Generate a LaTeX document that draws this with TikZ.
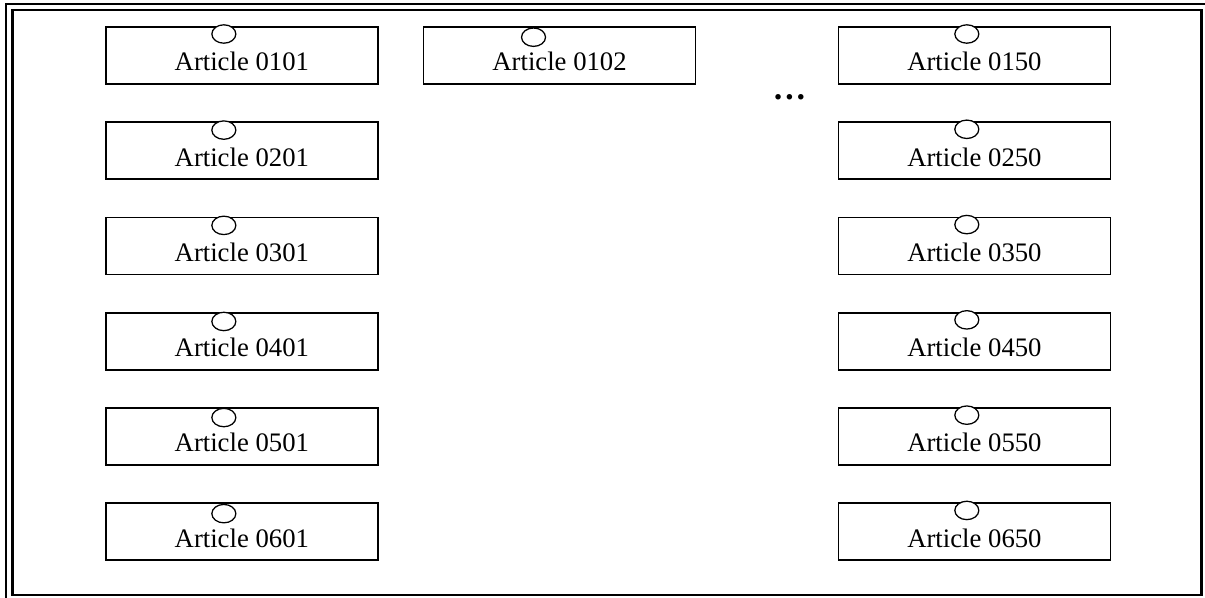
\documentclass[tikz,border=0pt]{standalone}
\usepackage{fontspec}
\setmainfont{Liberation Serif}
\usepackage{tikz}
\usetikzlibrary{positioning,shapes.geometric}

\begin{document}
\begin{tikzpicture}[
  node distance=0.915cm and 1.1cm,
  box/.style={draw,line width=1.2pt,minimum width=6.8cm,minimum height=1.425cm,inner xsep=0pt,inner ysep=0.05cm,text height=1.05cm,text depth=0.275cm,font=\fontsize{19}{21}\selectfont},
  hole/.style={draw,ellipse,fill=white,line width=0.9pt,minimum width=0.6cm,minimum height=0.46cm,inner sep=0pt}
]
\useasboundingbox (0,0) rectangle (30.125,-14.95);
% frame
\draw[line width=1.3pt] (0.145,-14.95) |- (30.125,-0.105);
\draw[line width=1.8pt] (0.31,-0.25) rectangle (30.04,-14.87);
% first column
\node[box,anchor=north west] (a0101) at (2.625,-0.65) {Article 0101};
\node[box,below=of a0101] (a0201) {Article 0201};
\node[box,below=of a0201] (a0301) {Article 0301};
\node[box,below=of a0301] (a0401) {Article 0401};
\node[box,below=of a0401] (a0501) {Article 0501};
\node[box,below=of a0501] (a0601) {Article 0601};
% second column
\node[box,right=of a0101] (a0102) {Article 0102};
% last column
\node[box,right=3.53cm of a0102] (a0150) {Article 0150};
\node[box,below=of a0150] (a0250) {Article 0250};
\node[box,below=of a0250] (a0350) {Article 0350};
\node[box,below=of a0350] (a0450) {Article 0450};
\node[box,below=of a0450] (a0550) {Article 0550};
\node[box,below=of a0550] (a0650) {Article 0650};
\node (more) at (19.74,-2.43) {\fontsize{24}{24}\selectfont\bfseries …};
% holes
\node[hole] (h0101) at ([xshift=-0.45cm,yshift=-0.2cm]a0101.north) {};
\node[hole] (h0201) at ([xshift=-0.45cm,yshift=-0.22cm]a0201.north) {};
\node[hole] (h0301) at ([xshift=-0.45cm,yshift=-0.22cm]a0301.north) {};
\node[hole] (h0401) at ([xshift=-0.45cm,yshift=-0.24cm]a0401.north) {};
\node[hole] (h0501) at ([xshift=-0.45cm,yshift=-0.26cm]a0501.north) {};
\node[hole] (h0601) at ([xshift=-0.45cm,yshift=-0.28cm]a0601.north) {};
\node[hole] (h0102) at ([xshift=-0.65cm,yshift=-0.28cm]a0102.north) {};
\node[hole] (h0150) at ([xshift=-0.19cm,yshift=-0.2cm]a0150.north) {};
\node[hole] (h0250) at ([xshift=-0.19cm,yshift=-0.2cm]a0250.north) {};
\node[hole] (h0350) at ([xshift=-0.19cm,yshift=-0.2cm]a0350.north) {};
\node[hole] (h0450) at ([xshift=-0.19cm,yshift=-0.2cm]a0450.north) {};
\node[hole] (h0550) at ([xshift=-0.19cm,yshift=-0.2cm]a0550.north) {};
\node[hole] (h0650) at ([xshift=-0.19cm,yshift=-0.2cm]a0650.north) {};
\end{tikzpicture}
\end{document}
